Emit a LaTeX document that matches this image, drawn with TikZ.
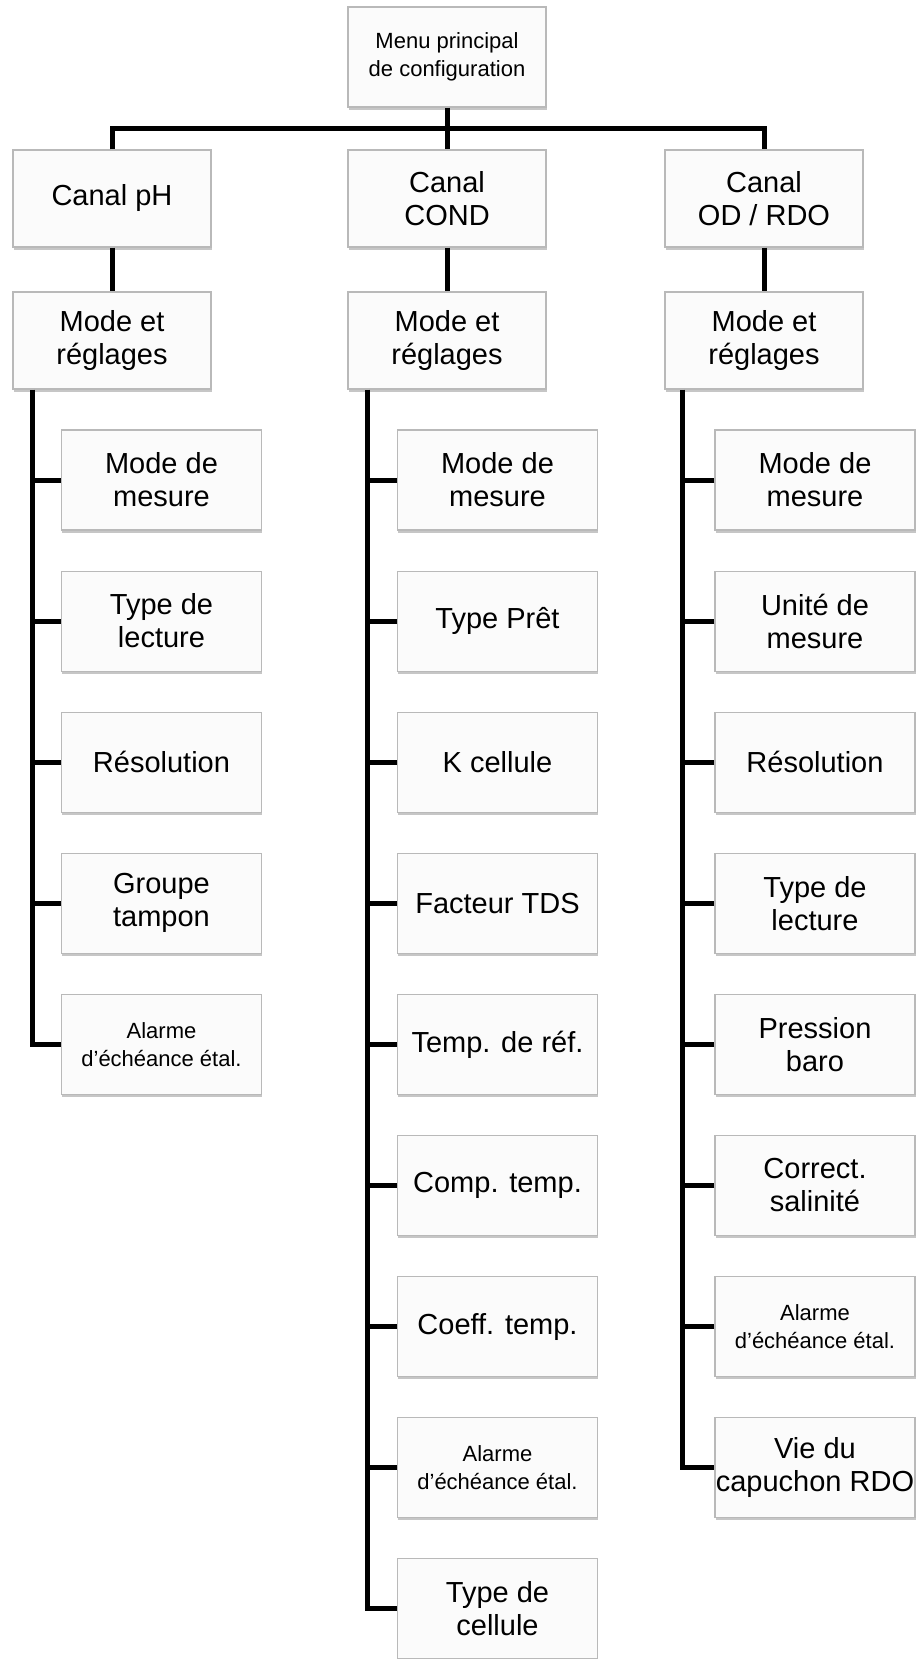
\documentclass[tikz,border=0pt]{standalone}
\usepackage{fontspec}
\setmainfont{Liberation Sans}
\usetikzlibrary{shadows}
\tikzset{
  menubox/.style={draw=gray!55, line width=0.6pt, fill=gray!3, align=center,
    inner sep=0pt, minimum width=100pt, minimum height=50pt,
    font=\fontsize{14.5}{16.5}\selectfont,
    drop shadow={shadow xshift=0.4pt, shadow yshift=-1.3pt, opacity=0.45}},
  headbox/.style={menubox, minimum width=99pt, minimum height=48.5pt},
  smalltext/.style={font=\fontsize{11}{14}\selectfont},
  link/.style={line width=2.5pt, black},
}
\begin{document}
\begin{tikzpicture}[x=0.5pt, y=-0.5pt]
  \useasboundingbox (0,0) rectangle (917,1659);
  % menu principal
  \node[headbox, minimum height=50pt, smalltext] (menu) at (447,57) {Menu principal\\de configuration};
  % canaux
  \node[headbox] (ph) at (112,198.5) {Canal pH};
  \node[headbox] (cond) at (447,198.5) {Canal\\COND};
  \node[headbox] (od) at (764,198.5) {Canal\\OD / RDO};
  \node[headbox] (phm) at (112,340.5) {Mode et\\réglages};
  \node[headbox] (condm) at (447,340.5) {Mode et\\réglages};
  \node[headbox] (odm) at (764,340.5) {Mode et\\réglages};
  % canal pH
  \node[menubox] (ph1) at (161.5,480) {Mode de\\mesure};
  \node[menubox] (ph2) at (161.5,621.1) {Type de\\lecture};
  \node[menubox] (ph3) at (161.5,762.2) {Résolution};
  \node[menubox] (ph4) at (161.5,903.3) {Groupe\\tampon};
  \node[menubox, smalltext] (ph5) at (161.5,1044.4) {Alarme\\d’échéance étal.};
  % canal COND
  \node[menubox] (cond1) at (497.5,480) {Mode de\\mesure};
  \node[menubox] (cond2) at (497.5,621.1) {Type Prêt};
  \node[menubox] (cond3) at (497.5,762.2) {K cellule};
  \node[menubox] (cond4) at (497.5,903.3) {Facteur TDS};
  \node[menubox] (cond5) at (497.5,1044.4) {Temp. de réf.};
  \node[menubox] (cond6) at (497.5,1185.5) {Comp. temp.};
  \node[menubox] (cond7) at (497.5,1326.6) {Coeff. temp.};
  \node[menubox, smalltext] (cond8) at (497.5,1467.7) {Alarme\\d’échéance étal.};
  \node[menubox] (cond9) at (497.5,1608.8) {Type de\\cellule};
  % canal OD / RDO
  \node[menubox] (od1) at (815,480) {Mode de\\mesure};
  \node[menubox] (od2) at (815,621.1) {Unité de\\mesure};
  \node[menubox] (od3) at (815,762.2) {Résolution};
  \node[menubox] (od4) at (815,903.3) {Type de\\lecture};
  \node[menubox] (od5) at (815,1044.4) {Pression\\baro};
  \node[menubox] (od6) at (815,1185.5) {Correct.\\salinité};
  \node[menubox, smalltext] (od7) at (815,1326.6) {Alarme\\d’échéance étal.};
  \node[menubox] (od8) at (815,1467.7) {Vie du\\capuchon RDO};
  % liaisons du haut
  \draw[link] (menu.south) -- ++(0,21) coordinate (bus);
  \draw[link] (ph.north) |- (bus) -| (od.north);
  \draw[link] (bus) -- (cond.north);
  \draw[link] (ph) -- (phm);
  \draw[link] (cond) -- (condm);
  \draw[link] (od) -- (odm);
  % branches
  \draw[link] ([xshift=10pt]phm.south west) |- (ph5.west);
  \foreach \n in {1,...,4} \draw[link] (ph\n.west) -- ++(-31,0);
  \draw[link] ([xshift=10pt]condm.south west) |- (cond9.west);
  \foreach \n in {1,...,8} \draw[link] (cond\n.west) -- ++(-31,0);
  \draw[link] ([xshift=9pt]odm.south west) |- (od8.west);
  \foreach \n in {1,...,7} \draw[link] (od\n.west) -- ++(-33,0);
\end{tikzpicture}
\end{document}
